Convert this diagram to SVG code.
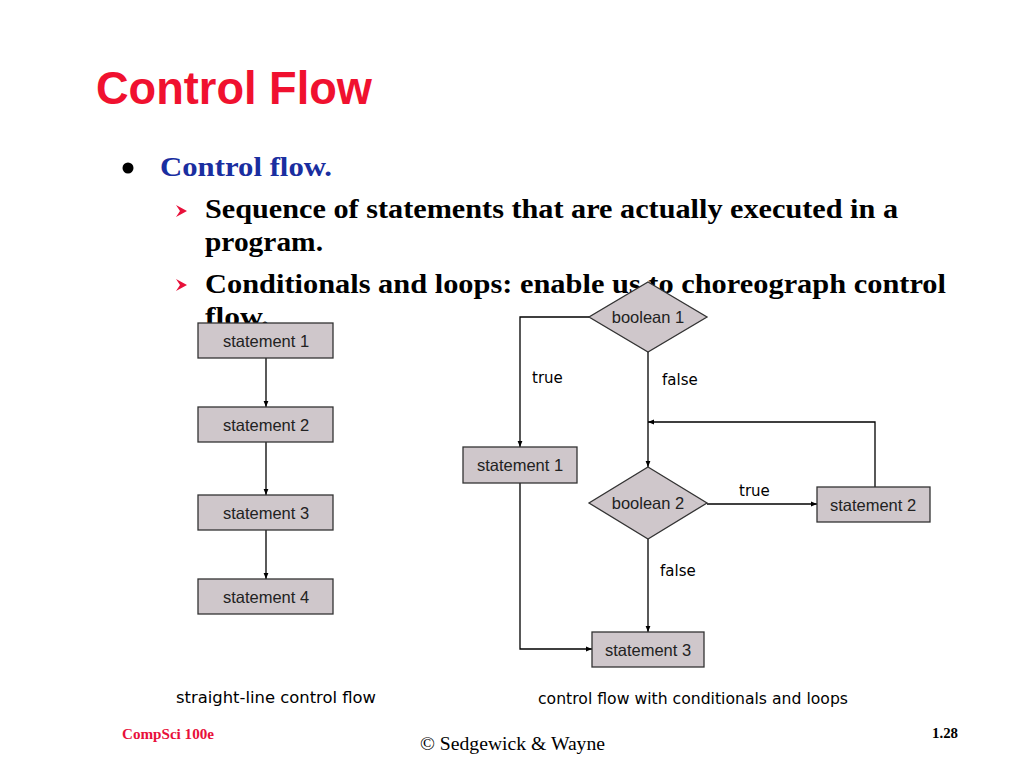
<svg xmlns="http://www.w3.org/2000/svg" width="1024" height="768" viewBox="0 0 1024 768">
<defs>
<style>
.box{fill:#cfc7cb;stroke:#333;stroke-width:1.3}
.nt{font-family:"Liberation Sans",Arial,sans-serif;font-size:16.5px;fill:#222;text-anchor:middle}
.lbl{font-family:"DejaVu Sans",sans-serif;font-size:15px;fill:#000}
.cap{font-family:"DejaVu Sans",sans-serif;font-size:15px;fill:#000}
.body{font-family:"Liberation Serif",serif;font-weight:bold;font-size:27px;fill:#000}
.edge{fill:none;stroke:#000;stroke-width:1.3}
</style>
<marker id="ah" viewBox="0 0 10 10" refX="10" refY="5" markerWidth="6" markerHeight="6" orient="auto" markerUnits="userSpaceOnUse"><path d="M0,1 L10,5 L0,9 Z" fill="#000"/></marker>
<path id="chev" d="M0,0 L11,6 L0,12 L4,6 Z" fill="#e8103a"/>
</defs>
<rect width="1024" height="768" fill="#fff"/>
<text x="96" y="104" font-family="Liberation Sans,Arial,sans-serif" font-weight="bold" font-size="47" fill="#f0112f" textLength="276" lengthAdjust="spacingAndGlyphs">Control Flow</text>
<circle cx="128" cy="168" r="5.5" fill="#000"/>
<text x="160" y="176" font-family="Liberation Serif,serif" font-weight="bold" font-size="27" fill="#1a2ea0" textLength="172" lengthAdjust="spacingAndGlyphs">Control flow.</text>
<use href="#chev" x="176" y="205"/>
<text class="body" x="205" y="218" textLength="693" lengthAdjust="spacingAndGlyphs">Sequence of statements that are actually executed in a</text>
<text class="body" x="205" y="251" textLength="118" lengthAdjust="spacingAndGlyphs">program.</text>
<use href="#chev" x="176" y="279"/>
<text class="body" x="205" y="293" textLength="741" lengthAdjust="spacingAndGlyphs">Conditionals and loops: enable us to choreograph control</text>
<text class="body" x="205" y="326" textLength="64" lengthAdjust="spacingAndGlyphs">flow.</text>
<g id="connectors">
<path class="edge" d="M266,358 V407" marker-end="url(#ah)"/>
<path class="edge" d="M266,442 V495" marker-end="url(#ah)"/>
<path class="edge" d="M266,530 V579" marker-end="url(#ah)"/>
<path class="edge" d="M589,317 H520 V447" marker-end="url(#ah)"/>
<path class="edge" d="M648,352 V467" marker-end="url(#ah)"/>
<path class="edge" d="M875,487 V422 H648" marker-end="url(#ah)"/>
<path class="edge" d="M707,504 H817" marker-end="url(#ah)"/>
<path class="edge" d="M648,539 V632" marker-end="url(#ah)"/>
<path class="edge" d="M520,483 V649 H592" marker-end="url(#ah)"/>
</g>
<g id="s1"><rect class="box" x="198" y="323" width="135" height="35"/><text class="nt" x="266" y="347">statement 1</text></g>
<g id="s2"><rect class="box" x="198" y="407" width="135" height="35"/><text class="nt" x="266" y="431">statement 2</text></g>
<g id="s3"><rect class="box" x="198" y="495" width="135" height="35"/><text class="nt" x="266" y="519">statement 3</text></g>
<g id="s4"><rect class="box" x="198" y="579" width="135" height="35"/><text class="nt" x="266" y="603">statement 4</text></g>
<g id="b1"><polygon class="box" points="648,282 707,317 648,352 589,317"/><text class="nt" x="648" y="323">boolean 1</text></g>
<g id="r1"><rect class="box" x="463" y="447" width="114" height="36"/><text class="nt" x="520" y="471">statement 1</text></g>
<g id="b2"><polygon class="box" points="648,467 707,503 648,539 589,503"/><text class="nt" x="648" y="509">boolean 2</text></g>
<g id="r2"><rect class="box" x="817" y="487" width="113" height="35"/><text class="nt" x="873" y="511">statement 2</text></g>
<g id="r3"><rect class="box" x="592" y="632" width="112" height="35"/><text class="nt" x="648" y="656">statement 3</text></g>
<text class="lbl" x="532" y="383">true</text>
<text class="lbl" x="662" y="385">false</text>
<text class="lbl" x="739" y="496">true</text>
<text class="lbl" x="660" y="576">false</text>
<text class="cap" x="176" y="703" textLength="200" lengthAdjust="spacingAndGlyphs">straight-line control flow</text>
<text class="cap" x="538" y="704" textLength="310" lengthAdjust="spacingAndGlyphs">control flow with conditionals and loops</text>
<text x="122" y="739" font-family="Liberation Serif,serif" font-weight="bold" font-size="14" fill="#e8103a" textLength="92" lengthAdjust="spacingAndGlyphs">CompSci 100e</text>
<text x="420" y="750" font-family="Liberation Serif,serif" font-size="19" fill="#000" textLength="185" lengthAdjust="spacingAndGlyphs">© Sedgewick &amp; Wayne</text>
<text x="932" y="738" font-family="Liberation Serif,serif" font-weight="bold" font-size="14" fill="#000" textLength="26" lengthAdjust="spacingAndGlyphs">1.28</text>
</svg>
